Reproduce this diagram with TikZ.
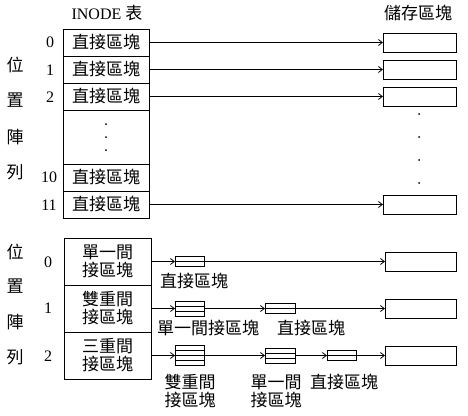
\documentclass[tikz,border=0pt]{standalone}
\usepackage{fontspec}
\setmainfont{Liberation Serif}
\newfontfamily\cjk{Noto Sans CJK TC}
\usetikzlibrary{arrows.meta,calc}
\begin{document}
\begin{tikzpicture}[x=1pt,y=-1pt,
  every node/.style={inner sep=0pt,outer sep=0pt},
  cjktxt/.style={font=\cjk\fontsize{17}{18}\selectfont,align=center},
  numtxt/.style={font=\fontsize{16}{18}\selectfont},
  cell/.style={draw,line width=0.9pt,minimum width=86pt,minimum height=27pt,cjktxt},
  cellb/.style={draw,line width=0.9pt,minimum width=87pt,minimum height=47pt,cjktxt},
  sbox/.style={draw,line width=0.9pt,minimum width=73pt,minimum height=19pt},
  tiny/.style={draw,line width=0.8pt,minimum width=29pt},
  conn/.style={draw,line width=0.8pt,-{Straight Barb[length=4pt,width=6pt]}},
  dotm/.style={fill,circle,minimum size=2pt}
]
\useasboundingbox (0,0) rectangle (468,415);

% ---------- top section ----------
\node[numtxt] (inode) at (107,13) {INODE {\cjk\fontsize{17}{18}\selectfont 表}};
\node[cjktxt] (store) at (418,13) {儲存區塊};

\node[cell] (t0) at (106,42.5) {直接區塊};
\node[cell] (t1) at (106,69.5) {直接區塊};
\node[cell] (t2) at (106,96.5) {直接區塊};
\node[cell,minimum height=54pt] (tdots) at (106,137) {};
\node[cell] (t10) at (106,177.5) {直接區塊};
\node[cell] (t11) at (106,204.5) {直接區塊};

\node[dotm] (td1) at (106,124) {};
\node[dotm] (td2) at (106,137) {};
\node[dotm] (td3) at (106,150) {};

\node[numtxt] (n0) at (50,42) {0};
\node[numtxt] (n1) at (50,70) {1};
\node[numtxt] (n2) at (50,97) {2};
\node[numtxt] (n10) at (49,177) {10};
\node[numtxt] (n11) at (49,205) {11};

\node[cjktxt] (va1) at (15,65) {位};
\node[cjktxt] (va2) at (15,100) {置};
\node[cjktxt] (va3) at (15,137) {陣};
\node[cjktxt] (va4) at (15,172) {列};

\node[sbox] (s0) at (419.5,42.5) {};
\node[sbox] (s1) at (419.5,69.5) {};
\node[sbox] (s2) at (419.5,96.5) {};
\node[sbox] (s11) at (419.5,204.5) {};

\node[dotm] (sd1) at (419,114) {};
\node[dotm] (sd2) at (419,137) {};
\node[dotm] (sd3) at (419,160) {};
\node[dotm] (sd4) at (419,183) {};

\draw[conn] (t0.east) -- (s0.west);
\draw[conn] (t1.east) -- (s1.west);
\draw[conn] (t2.east) -- (s2.west);
\draw[conn] (t11.east) -- (s11.west);

% ---------- bottom section ----------
\node[cellb] (u0) at (107.5,261.5) {單一間\\接區塊};
\node[cellb] (u1) at (107.5,308.5) {雙重間\\接區塊};
\node[cellb] (u2) at (107.5,355.5) {三重間\\接區塊};

\node[numtxt] (m0) at (48,262) {0};
\node[numtxt] (m1) at (48,308) {1};
\node[numtxt] (m2) at (48,356) {2};

\node[cjktxt] (vb1) at (15,252) {位};
\node[cjktxt] (vb2) at (15,286) {置};
\node[cjktxt] (vb3) at (15,322) {陣};
\node[cjktxt] (vb4) at (15,357) {列};

% small pointer blocks
\node[tiny,minimum height=10pt] (a0) at (189.5,261.5) {};
\node[tiny,minimum height=15pt] (a1) at (189.5,308.5) {};
\node[tiny,minimum height=20pt] (a2) at (189.5,355.5) {};
\node[tiny,minimum width=30pt,minimum height=10pt] (b1) at (280,308.5) {};
\node[tiny,minimum width=30pt,minimum height=15pt] (b2) at (280,355.5) {};
\node[tiny,minimum height=10pt] (c2) at (341.5,355.5) {};

\foreach \n/\k in {a0/2,a1/3,a2/4,b1/2,b2/3,c2/2}{
  \pgfmathtruncatemacro{\km}{\k-1}
  \foreach \i in {1,...,\km}{
    \draw[line width=0.8pt] ($(\n.north west)!\i/\k!(\n.south west)$) -- ($(\n.north east)!\i/\k!(\n.south east)$);
  }
}

\node[sbox,minimum width=71pt] (v0) at (420.5,261.5) {};
\node[sbox,minimum width=71pt] (v1) at (420.5,308.5) {};
\node[sbox,minimum width=71pt] (v2) at (420.5,355.5) {};

\draw[conn] (u0.east) -- (a0.west);
\draw[conn] (a0.east) -- (v0.west);
\draw[conn] (u1.east) -- (a1.west);
\draw[conn] (a1.east) -- (b1.west);
\draw[conn] (b1.east) -- (v1.west);
\draw[conn] (u2.east) -- (a2.west);
\draw[conn] (a2.east) -- (b2.west);
\draw[conn] (b2.east) -- (c2.west);
\draw[conn] (c2.east) -- (v2.west);

% labels under blocks
\node[cjktxt] (la0) at (194,281) {直接區塊};
\node[cjktxt] (la1) at (208,328) {單一間接區塊};
\node[cjktxt] (lb1) at (311,328) {直接區塊};
\node[cjktxt] (la2) at (190,391) {雙重間\\接區塊};
\node[cjktxt] (lb2) at (276,391) {單一間\\接區塊};
\node[cjktxt] (lc2) at (344,382) {直接區塊};
\end{tikzpicture}
\end{document}
